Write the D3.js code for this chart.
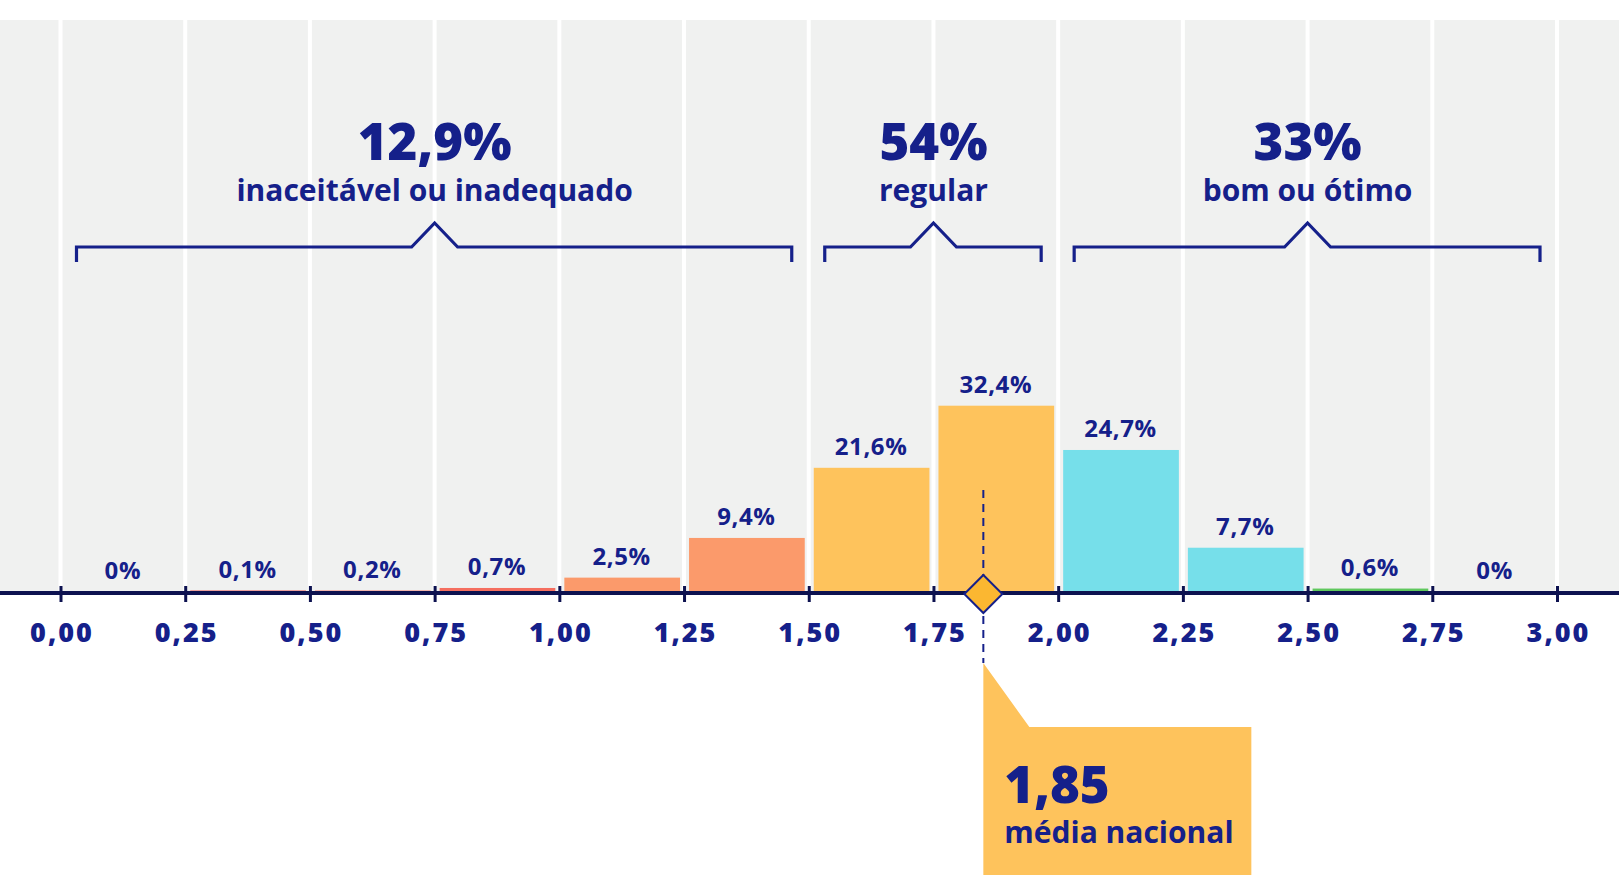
<!DOCTYPE html>
<html>
<head>
<meta charset="utf-8">
<script src="https://cdn.jsdelivr.net/npm/d3@7"></script>
<style>
  body { margin: 0; background: #fff; }
  text { font-family: "Open Sans", Lato, sans-serif; fill: #15208a; }
</style>
</head>
<body>
<svg id="chart" width="1619" height="875"></svg>
<script>
// bins of 0.25 on the 0-3 scale
var binStarts = [0, 0.25, 0.5, 0.75, 1.0, 1.25, 1.5, 1.75, 2.0, 2.25, 2.5, 2.75];
var shares = [0, 0.1, 0.2, 0.7, 2.5, 9.4, 21.6, 32.4, 24.7, 7.7, 0.6, 0];
var barColors = ["#e8514a", "#e8514a", "#f47a6a", "#f56e5f", "#fb9a6b", "#fb9a6b",
                 "#fec35c", "#fec35c", "#76dfea", "#76dfea", "#5fc85d", "#5fc85d"];
var tickValues = [0, 0.25, 0.5, 0.75, 1.0, 1.25, 1.5, 1.75, 2.0, 2.25, 2.5, 2.75, 3.0];

var groupRanges = [[0, 1.5], [1.5, 2.0], [2.0, 3.0]];
var groupShares = ["12,9%", "54%", "33%"];
var groupNames = ["inaceitável ou inadequado", "regular", "bom ou ótimo"];

var mean = 1.85;
var meanLabel = "média nacional";

var W = 1619, H = 875;
var axisY = 593, bgTop = 20;
var navy = "#15208a", axisColor = "#0d1250";

var ptBR = d3.formatLocale({decimal: ",", thousands: ".", grouping: [3], currency: ["R$", ""]});
var fmtTick = ptBR.format(".2f");
var fmtShare = function(d) { return d === 0 ? "0%" : ptBR.format(".1f")(d) + "%"; };

var x = d3.scaleLinear().domain([0, 3]).range([60.5, 1557]);
var y = d3.scaleLinear().domain([0, 10]).range([592, 534.5]);

var svg = d3.select("#chart");

// grey panel
svg.append("rect")
  .attr("x", 0).attr("y", bgTop)
  .attr("width", W).attr("height", axisY - bgTop)
  .attr("fill", "#f0f1f0");

// white grid lines
svg.append("g").selectAll("line")
  .data(tickValues).enter().append("line")
  .attr("x1", function(d) { return x(d); })
  .attr("x2", function(d) { return x(d); })
  .attr("y1", bgTop).attr("y2", axisY)
  .attr("stroke", "#fff").attr("stroke-width", 4);

// bars
var bw = x(0.25) - x(0);
svg.append("g").selectAll("rect")
  .data(shares).enter().append("rect")
  .attr("x", function(d, i) { return x(binStarts[i]) + 5; })
  .attr("width", bw - 9)
  .attr("y", function(d) { return Math.min(y(d), y(0) - 1.5); })
  .attr("height", function(d) { return Math.max(y(0) - y(d), 1.5); })
  .attr("fill", function(d, i) { return barColors[i]; })
  .style("display", function(d) { return d > 0 ? null : "none"; });

// bar labels
svg.append("g").selectAll("text")
  .data(shares).enter().append("text")
  .attr("x", function(d, i) { return x(binStarts[i] + 0.125); })
  .attr("y", function(d) { return y(d) - 13; })
  .attr("text-anchor", "middle")
  .style("font-size", "24px").style("font-weight", 700)
  .style("letter-spacing", "0.6px")
  .text(function(d) { return fmtShare(d); });

// brackets + group headings
var bracket = svg.append("g");
groupRanges.forEach(function(r, i) {
  var l = x(r[0]) + 16, rr = x(r[1]) - 17, m = x((r[0] + r[1]) / 2);
  var by = 247;
  var p = d3.path();
  p.moveTo(l, 262); p.lineTo(l, by); p.lineTo(m - 23, by); p.lineTo(m, 223);
  p.lineTo(m + 23, by); p.lineTo(rr, by); p.lineTo(rr, 262);
  bracket.append("path").attr("d", p.toString())
    .attr("fill", "none").attr("stroke", navy).attr("stroke-width", 3.2);
  bracket.append("text").attr("x", m).attr("y", 160)
    .attr("text-anchor", "middle")
    .style("font-size", "51px").style("font-weight", 800)
    .text(groupShares[i]);
  bracket.append("text").attr("x", m).attr("y", 201)
    .attr("text-anchor", "middle")
    .style("font-size", "30px").style("font-weight", 700)
    .text(groupNames[i]);
});

// callout for the national mean
var xm = x(mean);
svg.append("path")
  .attr("d", d3.line()([[xm, 663], [xm + 46, 727], [xm + 268, 727], [xm + 268, H], [xm, H]]))
  .attr("fill", "#fec35c");
svg.append("text").attr("x", xm + 21).attr("y", 803)
  .style("font-size", "51px").style("font-weight", 800)
  .text(ptBR.format(".2f")(mean));
svg.append("text").attr("x", xm + 21).attr("y", 843)
  .style("font-size", "30px").style("font-weight", 700)
  .text(meanLabel);

// axis
var axis = d3.axisBottom(x).tickValues(tickValues).tickFormat(fmtTick).tickSize(9).tickPadding(0);
var ag = svg.append("g").attr("transform", "translate(0," + axisY + ")").call(axis);
ag.select(".domain").remove();
ag.insert("line", ":first-child")
  .attr("x1", 0).attr("x2", W)
  .attr("stroke", axisColor).attr("stroke-width", 4);
ag.selectAll(".tick line").attr("y1", -7).attr("stroke", axisColor).attr("stroke-width", 3);
ag.selectAll(".tick text")
  .attr("y", 49).attr("dy", null).attr("dx", 1)
  .attr("fill", navy)
  .style("font-size", "27px").style("font-weight", 800)
  .style("letter-spacing", "2px")
  .style("font-family", "'Open Sans', sans-serif");

// dashed mean line and diamond
svg.append("line")
  .attr("x1", xm).attr("x2", xm).attr("y1", 490).attr("y2", 663)
  .attr("stroke", navy).attr("stroke-width", 2)
  .attr("stroke-dasharray", "8,6");
svg.append("path")
  .attr("d", d3.line()([[xm, 575], [xm + 19, 594], [xm, 613], [xm - 19, 594]]) + "Z")
  .attr("fill", "#fbb731").attr("stroke", navy).attr("stroke-width", 2);
</script>
</body>
</html>
